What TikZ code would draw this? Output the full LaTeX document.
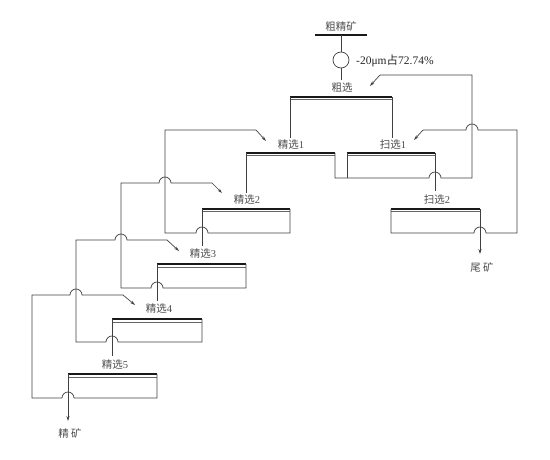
\documentclass[tikz,border=0pt]{standalone}
\usepackage{fontspec}
\setmainfont{Liberation Serif}
\newfontfamily\cjk{Noto Sans CJK SC}
\usetikzlibrary{arrows.meta}
\begin{document}
\begin{tikzpicture}[x=1pt,y=-1pt,
  ln/.style={draw=black!75,line width=0.7pt},
  arr/.style={ln,-{Stealth[length=5pt,width=3pt]}},
  lbl/.style={text=black!70,font=\fontsize{10.5}{12}\selectfont,inner sep=0pt},
  topthick/.style={draw=black!90,line width=1.5pt},
  topthin/.style={draw=black!60,line width=0.6pt}]
\useasboundingbox (0,0) rectangle (550,460);
% cell tops
\newcommand\celltop[3]{\draw[topthick] (#1,#3) -- (#2,#3);\draw[topthin] (#1,#3+2.8) -- (#2,#3+2.8);}
% feed
\node[lbl] (feed) at (341,26) {\cjk 粗精矿};
\draw[topthick] (315,35) -- (367,35);
\draw[ln] (341,35) -- (341,52);
\draw[ln] (341,60) circle[radius=8];
\draw[ln] (341,68) -- (341,80);
\node[lbl,anchor=west,text=black!85,font=\fontsize{11.5}{13}\selectfont] (size) at (356,61) {-20μm{\cjk 占}72.74\%};
\node[lbl] (ro) at (342,88) {\cjk 粗选};
% rougher
\celltop{290}{392}{97}
\draw[ln] (290,97) -- (290,138);
\draw[ln] (392,97) -- (392,138);
\node[lbl] (cl1) at (291,145) {{\cjk 精选}1};
\node[lbl] (sc1) at (393,145) {{\cjk 扫选}1};
% cleaner 1 and scavenger 1
\celltop{246}{335}{153}
\celltop{347}{435}{153}
\draw[ln] (246,153) -- (246,193);
\draw[ln] (335,153) -- (335,178) -- (429,178) arc[start angle=180,end angle=360,radius=6] -- (472,178) -- (472,75) -- (380,75);
\draw[arr] (380,75) -- (370,86);
\draw[ln] (347,153) -- (347,178);
\draw[ln] (435,153) -- (435,191);
% scavenger 2
\node[lbl] (sc2) at (437,200) {{\cjk 扫选}2};
\celltop{391}{480}{209}
\draw[arr] (480,209) -- (480,254);
\node[lbl] (tail) at (482,267) {\cjk 尾 矿};
\draw[ln] (391,209) -- (391,233) -- (474,233) arc[start angle=180,end angle=360,radius=6] -- (517,233) -- (517,130) -- (478,130) arc[start angle=0,end angle=-180,radius=6] -- (423,130);
\draw[arr] (423,130) -- (414,140);
% cleaner 2
\node[lbl] (cl2) at (247,200) {{\cjk 精选}2};
\celltop{202}{290}{209}
\draw[ln] (202,209) -- (202,246);
\draw[ln] (290,209) -- (290,233) -- (208,233) arc[start angle=0,end angle=-180,radius=6] -- (165,233) -- (165,130) -- (256,130);
\draw[arr] (256,130) -- (266,141);
% cleaner 3
\node[lbl] (cl3) at (203,254) {{\cjk 精选}3};
\celltop{157}{246}{264}
\draw[ln] (157,264) -- (157,301);
\draw[ln] (246,264) -- (246,288) -- (163,288) arc[start angle=0,end angle=-180,radius=6] -- (121,288) -- (121,183) -- (159,183) arc[start angle=180,end angle=360,radius=6] -- (212,183);
\draw[arr] (212,183) -- (222,193);
% cleaner 4
\node[lbl] (cl4) at (159,309) {{\cjk 精选}4};
\celltop{112}{202}{319}
\draw[ln] (112,319) -- (112,356);
\draw[ln] (202,319) -- (202,342) -- (118,342) arc[start angle=0,end angle=-180,radius=6] -- (76,342) -- (76,240) -- (115,240) arc[start angle=180,end angle=360,radius=6] -- (167,240);
\draw[arr] (167,240) -- (179,251);
% cleaner 5
\node[lbl] (cl5) at (115,365) {{\cjk 精选}5};
\celltop{68}{157}{374}
\draw[arr] (68,374) -- (68,421);
\node[lbl] (conc) at (70,433) {\cjk 精 矿};
\draw[ln] (157,374) -- (157,398) -- (74,398) arc[start angle=0,end angle=-180,radius=6] -- (32,398) -- (32,295) -- (70,295) arc[start angle=180,end angle=360,radius=6] -- (123,295);
\draw[arr] (123,295) -- (135,305);
\end{tikzpicture}
\end{document}
